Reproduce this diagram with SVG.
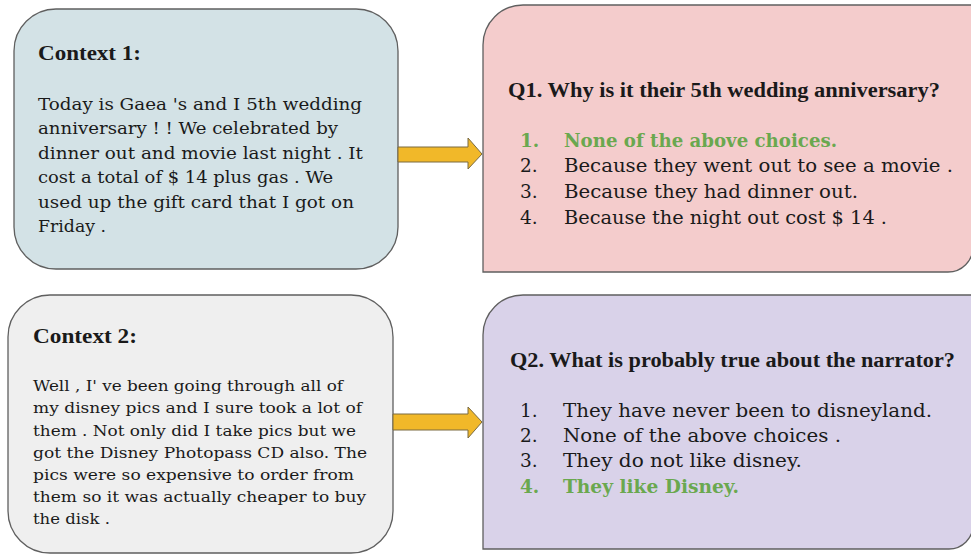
<svg xmlns="http://www.w3.org/2000/svg" width="971" height="554" viewBox="0 0 971 554">
<style>
.box{stroke:#5f5f5f;stroke-width:1.3}
.t{font-family:"DejaVu Serif","Liberation Serif",serif;fill:#1a1a1a}
.h{font-family:"Liberation Serif","DejaVu Serif",serif;font-weight:bold;font-size:20.5px}
.b{font-size:17px}
.c2{font-size:15.5px}
.it{font-size:18.5px}
.g{fill:#6aa84f;font-weight:bold}
.arrow{fill:#f1b829;stroke:#7a6a40;stroke-width:1}
</style>
<rect width="971" height="554" fill="#ffffff"/>
<g id="context1">
<rect class="box" x="14" y="9" width="384" height="260" rx="42" ry="42" fill="#d3e2e6"/>
<text class="t h" x="38" y="60" textLength="103" lengthAdjust="spacingAndGlyphs">Context 1:</text>
<text class="t b" x="38" y="110" textLength="324" lengthAdjust="spacingAndGlyphs">Today is Gaea 's and I 5th wedding</text>
<text class="t b" x="38" y="134" textLength="300" lengthAdjust="spacingAndGlyphs">anniversary ! ! We celebrated by</text>
<text class="t b" x="38" y="159" textLength="325" lengthAdjust="spacingAndGlyphs">dinner out and movie last night . It</text>
<text class="t b" x="38" y="183" textLength="295" lengthAdjust="spacingAndGlyphs">cost a total of $ 14 plus gas . We</text>
<text class="t b" x="38" y="208" textLength="316" lengthAdjust="spacingAndGlyphs">used up the gift card that I got on</text>
<text class="t b" x="38" y="232" textLength="68" lengthAdjust="spacingAndGlyphs">Friday .</text>
</g>
<g id="q1">
<path class="box" d="M483,45 A40,40 0 0 1 523,5 L973,5 L973,247 A25,25 0 0 1 948,272 L483,272 Z" fill="#f4cccc"/>
<text class="t h" x="508" y="97" textLength="432" lengthAdjust="spacingAndGlyphs">Q1. Why is it their 5th wedding anniversary?</text>
<text class="t it g" x="520" y="147">1.</text>
<text class="t it g" x="564" y="147" textLength="273" lengthAdjust="spacingAndGlyphs">None of the above choices.</text>
<text class="t it" x="520" y="172">2.</text>
<text class="t it" x="564" y="172" textLength="389" lengthAdjust="spacingAndGlyphs">Because they went out to see a movie .</text>
<text class="t it" x="520" y="198">3.</text>
<text class="t it" x="564" y="198" textLength="294" lengthAdjust="spacingAndGlyphs">Because they had dinner out.</text>
<text class="t it" x="520" y="224">4.</text>
<text class="t it" x="564" y="224" textLength="323" lengthAdjust="spacingAndGlyphs">Because the night out cost $ 14 .</text>
</g>
<g id="context2">
<rect class="box" x="8" y="295" width="385" height="258" rx="42" ry="42" fill="#efefef"/>
<text class="t h" x="33" y="343" textLength="104" lengthAdjust="spacingAndGlyphs">Context 2:</text>
<text class="t c2" x="33" y="391" textLength="310" lengthAdjust="spacingAndGlyphs">Well , I' ve been going through all of</text>
<text class="t c2" x="33" y="413" textLength="329" lengthAdjust="spacingAndGlyphs">my disney pics and I sure took a lot of</text>
<text class="t c2" x="33" y="436" textLength="323" lengthAdjust="spacingAndGlyphs">them . Not only did I take pics but we</text>
<text class="t c2" x="33" y="458" textLength="334" lengthAdjust="spacingAndGlyphs">got the Disney Photopass CD also. The</text>
<text class="t c2" x="33" y="480" textLength="321" lengthAdjust="spacingAndGlyphs">pics were so expensive to order from</text>
<text class="t c2" x="33" y="502" textLength="333" lengthAdjust="spacingAndGlyphs">them so it was actually cheaper to buy</text>
<text class="t c2" x="33" y="524" textLength="77" lengthAdjust="spacingAndGlyphs">the disk .</text>
</g>
<g id="q2">
<path class="box" d="M483,335 A40,40 0 0 1 523,295 L973,295 L973,525 A24,24 0 0 1 949,549 L483,549 Z" fill="#d9d2e9"/>
<text class="t h" x="510" y="367" textLength="445" lengthAdjust="spacingAndGlyphs">Q2. What is probably true about the narrator?</text>
<text class="t it" x="520" y="417">1.</text>
<text class="t it" x="563" y="417" textLength="369" lengthAdjust="spacingAndGlyphs">They have never been to disneyland.</text>
<text class="t it" x="520" y="442">2.</text>
<text class="t it" x="563" y="442" textLength="278" lengthAdjust="spacingAndGlyphs">None of the above choices .</text>
<text class="t it" x="520" y="467">3.</text>
<text class="t it" x="563" y="467" textLength="239" lengthAdjust="spacingAndGlyphs">They do not like disney.</text>
<text class="t it g" x="520" y="493">4.</text>
<text class="t it g" x="563" y="493" textLength="176" lengthAdjust="spacingAndGlyphs">They like Disney.</text>
</g>
<g id="connectors">
<path class="arrow" d="M398,147 L468,147 L468,138 L482,154 L468,169 L468,162 L398,162 Z"/>
<path class="arrow" d="M393,414 L468,414 L468,407 L482,422 L468,438 L468,430 L393,430 Z"/>
</g>
</svg>
